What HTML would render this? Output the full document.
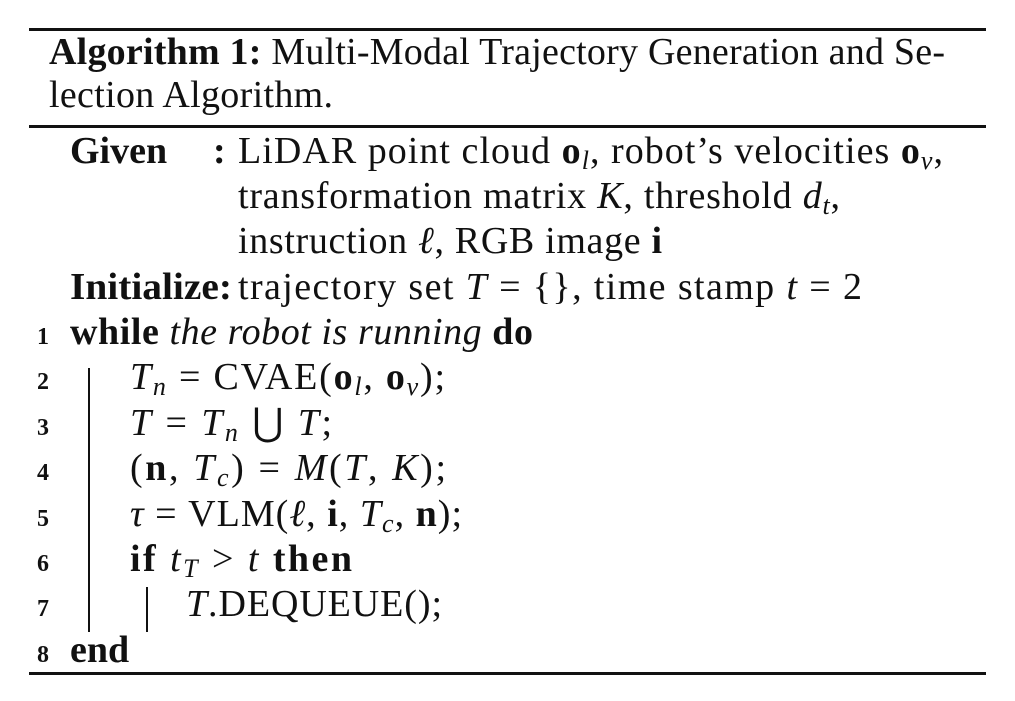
<!DOCTYPE html>
<html><head><meta charset="utf-8"><style>
html,body{margin:0;padding:0;background:#fff;width:1015px;height:701px;overflow:hidden}
svg text{font-family:"Liberation Serif","DejaVu Serif",serif;font-size:38px;fill:#111}
.b{font-weight:bold}.i{font-style:italic}.n{font-size:24px;font-weight:bold}.s{font-size:26px}
</style></head><body>
<svg width="1015" height="701" xmlns="http://www.w3.org/2000/svg">
<rect x="29" y="28" width="957" height="3" fill="#111"/>
<rect x="29" y="125" width="957" height="3" fill="#111"/>
<rect x="29" y="672" width="957" height="3" fill="#111"/>
<rect x="88" y="368" width="2" height="264" fill="#111"/>
<rect x="146" y="587" width="2" height="45" fill="#111"/>

<text x="49" y="64" textLength="896" lengthAdjust="spacing"><tspan class="b">Algorithm 1:</tspan> Multi-Modal Trajectory Generation and Se-</text>
<text x="49" y="107" textLength="284" lengthAdjust="spacing">lection Algorithm.</text>

<text x="70" y="163" class="b">Given</text>
<text x="213" y="163" class="b">:</text>
<text x="238" y="163" textLength="705" lengthAdjust="spacing">LiDAR point cloud <tspan class="b">o</tspan><tspan class="i s" dy="6">l</tspan><tspan dy="-6">, robot’s velocities </tspan><tspan class="b">o</tspan><tspan class="i s" dy="6">v</tspan><tspan dy="-6">,</tspan></text>
<text x="238" y="208" textLength="602" lengthAdjust="spacing">transformation matrix <tspan class="i">K</tspan>, threshold <tspan class="i">d</tspan><tspan class="i s" dy="6">t</tspan><tspan dy="-6">,</tspan></text>
<text x="238" y="253" textLength="424" lengthAdjust="spacing">instruction <tspan class="i">ℓ</tspan>, RGB image <tspan class="b">i</tspan></text>
<text x="70" y="299" class="b" textLength="162" lengthAdjust="spacingAndGlyphs">Initialize:</text>
<text x="238" y="299" textLength="624" lengthAdjust="spacing">trajectory set <tspan class="i">T</tspan> = {}, time stamp <tspan class="i">t</tspan> = 2</text>

<text x="37" y="344" class="n">1</text>
<text x="70" y="344" textLength="463" lengthAdjust="spacing"><tspan class="b">while</tspan> <tspan class="i">the robot is running</tspan> <tspan class="b">do</tspan></text>
<text x="37" y="389" class="n">2</text>
<text x="130" y="389" textLength="315" lengthAdjust="spacing"><tspan class="i">T</tspan><tspan class="i s" dy="6">n</tspan><tspan dy="-6"> = CVAE(</tspan><tspan class="b">o</tspan><tspan class="i s" dy="6">l</tspan><tspan dy="-6">, </tspan><tspan class="b">o</tspan><tspan class="i s" dy="6">v</tspan><tspan dy="-6">);</tspan></text>
<text x="37" y="435" class="n">3</text>
<text x="130" y="435" textLength="202" lengthAdjust="spacing"><tspan class="i">T</tspan> = <tspan class="i">T</tspan><tspan class="i s" dy="6">n</tspan><tspan dy="-6"> ⋃ </tspan><tspan class="i">T</tspan>;</text>
<text x="37" y="480" class="n">4</text>
<text x="130" y="480" textLength="316" lengthAdjust="spacing">(<tspan class="b">n</tspan>, <tspan class="i">T</tspan><tspan class="i s" dy="6">c</tspan><tspan dy="-6">) = </tspan><tspan class="i">M</tspan>(<tspan class="i">T</tspan>, <tspan class="i">K</tspan>);</text>
<text x="37" y="526" class="n">5</text>
<text x="130" y="526" textLength="332" lengthAdjust="spacing"><tspan class="i">τ</tspan> = VLM(<tspan class="i">ℓ</tspan>, <tspan class="b">i</tspan>, <tspan class="i">T</tspan><tspan class="i s" dy="6">c</tspan><tspan dy="-6">, </tspan><tspan class="b">n</tspan>);</text>
<text x="37" y="571" class="n">6</text>
<text x="130" y="571" textLength="222" lengthAdjust="spacing"><tspan class="b">if</tspan> <tspan class="i">t</tspan><tspan class="i s" dy="6">T</tspan><tspan dy="-6"> &gt; </tspan><tspan class="i">t</tspan> <tspan class="b">then</tspan></text>
<text x="37" y="616" class="n">7</text>
<text x="186" y="616" textLength="256" lengthAdjust="spacing"><tspan class="i">T</tspan>.DEQUEUE();</text>
<text x="37" y="662" class="n">8</text>
<text x="70" y="662" class="b">end</text>
</svg>
</body></html>
